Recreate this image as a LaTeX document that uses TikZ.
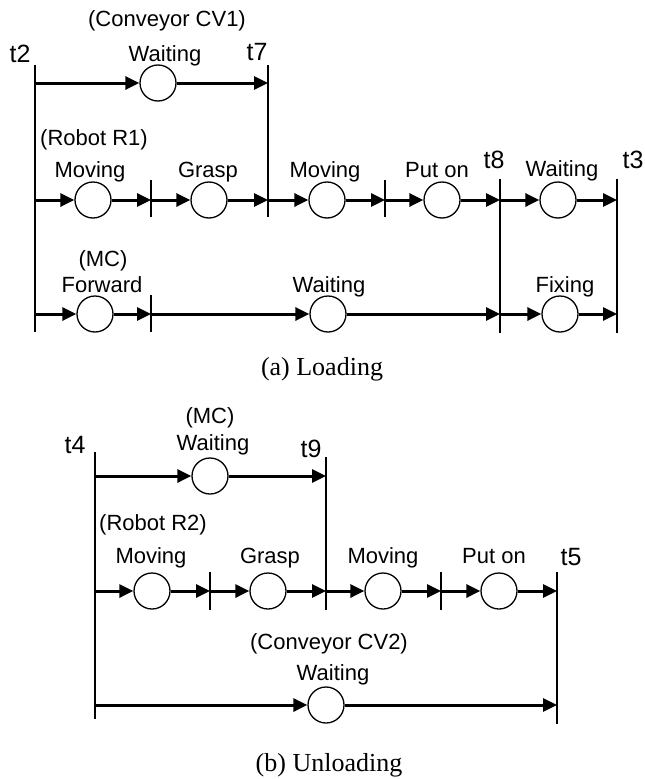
\documentclass[tikz,border=0pt]{standalone}
\usepackage{fontspec}
\setmainfont{Liberation Serif}
\newfontfamily\lab{Liberation Sans}
\usetikzlibrary{arrows.meta}
\tikzset{
 place/.style={circle, draw, line width=1.3pt, minimum size=36pt, inner sep=0pt},
 flow/.style={line width=3pt, -{Triangle[length=14pt,width=13pt]}},
 bar/.style={line width=1.3pt},
 lbl/.style={anchor=base, inner sep=0pt, font=\lab\fontsize{22}{24}\selectfont},
 tlbl/.style={anchor=base, inner sep=0pt, font=\lab\fontsize{25}{28}\selectfont},
 captxt/.style={anchor=base, inner sep=0pt, font=\fontsize{26}{30}\selectfont}
}
\begin{document}
\begin{tikzpicture}[x=1pt,y=-1pt]
\useasboundingbox (0,0) rectangle (645,779);
% ================= (a) Loading =================
% bars
\coordinate (t2top) at (35,65);  \coordinate (t2bot) at (35,332);
\coordinate (t7top) at (268,65); \coordinate (t7bot) at (268,217);
\coordinate (t8top) at (500,179); \coordinate (t8bot) at (500,333);
\coordinate (t3top) at (617,179); \coordinate (t3bot) at (617,333);
\coordinate (ka1top) at (151,180); \coordinate (ka1bot) at (151,217);
\coordinate (ka2top) at (385,180); \coordinate (ka2bot) at (385,217);
\coordinate (ka3top) at (151,295); \coordinate (ka3bot) at (151,332);
\foreach \b in {t2,t7,t8,t3,ka1,ka2,ka3} \draw[bar] (\b top) -- (\b bot);
% row 1
\coordinate (a1s) at (35,83); \coordinate (a1e) at (268,83);
\node[place] (ca1) at (158,83) {};
\draw[flow] (a1s) -- (ca1); \draw[flow] (ca1) -- (a1e);
% row 2
\coordinate (a2x0) at (35,200);  \coordinate (a2x1) at (151,200);
\coordinate (a2x2) at (268,200); \coordinate (a2x3) at (385,200);
\coordinate (a2x4) at (500,200); \coordinate (a2x5) at (617,200);
\node[place] (ca2a) at (93,200) {};
\node[place] (ca2b) at (209,200) {};
\node[place] (ca2c) at (327,200) {};
\node[place] (ca2d) at (442,200) {};
\node[place] (ca2e) at (558,200) {};
\draw[flow] (a2x0) -- (ca2a); \draw[flow] (ca2a) -- (a2x1);
\draw[flow] (a2x1) -- (ca2b); \draw[flow] (ca2b) -- (a2x2);
\draw[flow] (a2x2) -- (ca2c); \draw[flow] (ca2c) -- (a2x3);
\draw[flow] (a2x3) -- (ca2d); \draw[flow] (ca2d) -- (a2x4);
\draw[flow] (a2x4) -- (ca2e); \draw[flow] (ca2e) -- (a2x5);
% row 3
\coordinate (a3x0) at (35,314);  \coordinate (a3x1) at (151,314);
\coordinate (a3x2) at (500,314); \coordinate (a3x3) at (617,314);
\node[place] (ca3a) at (95,314) {};
\node[place] (ca3b) at (328,314) {};
\node[place] (ca3c) at (560,314) {};
\draw[flow] (a3x0) -- (ca3a); \draw[flow] (ca3a) -- (a3x1);
\draw[flow] (a3x1) -- (ca3b); \draw[flow] (ca3b) -- (a3x2);
\draw[flow] (a3x2) -- (ca3c); \draw[flow] (ca3c) -- (a3x3);
% labels (a)
\node[lbl] (la0) at (167,26) {(Conveyor CV1)};
\node[lbl] (la1) at (165,61) {Waiting};
\node[tlbl] (lt2) at (20,62) {t2};
\node[tlbl] (lt7) at (257,60) {t7};
\node[lbl] (la2) at (94,145) {(Robot R1)};
\node[lbl] (la3) at (90,177) {Moving};
\node[lbl] (la4) at (208,177) {Grasp};
\node[lbl] (la5) at (325,177) {Moving};
\node[lbl] (la6) at (437,177) {Put on};
\node[tlbl] (lt8) at (494,168) {t8};
\node[lbl] (la7) at (562,176) {Waiting};
\node[tlbl] (lt3) at (633,168) {t3};
\node[lbl] (la8) at (103,266) {(MC)};
\node[lbl] (la9) at (102,292) {Forward};
\node[lbl] (la10) at (329,292) {Waiting};
\node[lbl] (la11) at (565,292) {Fixing};
\node[captxt] (capa) at (322,375) {(a) Loading};
% ================= (b) Unloading =================
\coordinate (t4top) at (95,452);  \coordinate (t4bot) at (95,719);
\coordinate (t9top) at (326,457); \coordinate (t9bot) at (326,610);
\coordinate (t5top) at (557,572); \coordinate (t5bot) at (557,724);
\coordinate (kb1top) at (210,572); \coordinate (kb1bot) at (210,610);
\coordinate (kb2top) at (441,572); \coordinate (kb2bot) at (441,610);
\foreach \b in {t4,t9,t5,kb1,kb2} \draw[bar] (\b top) -- (\b bot);
% row 1
\coordinate (b1s) at (95,476); \coordinate (b1e) at (326,476);
\node[place] (cb1) at (210,476) {};
\draw[flow] (b1s) -- (cb1); \draw[flow] (cb1) -- (b1e);
% row 2
\coordinate (b2x0) at (95,591);  \coordinate (b2x1) at (210,591);
\coordinate (b2x2) at (326,591); \coordinate (b2x3) at (441,591);
\coordinate (b2x4) at (557,591);
\node[place] (cb2a) at (152,591) {};
\node[place] (cb2b) at (268,591) {};
\node[place] (cb2c) at (383,591) {};
\node[place] (cb2d) at (499,591) {};
\draw[flow] (b2x0) -- (cb2a); \draw[flow] (cb2a) -- (b2x1);
\draw[flow] (b2x1) -- (cb2b); \draw[flow] (cb2b) -- (b2x2);
\draw[flow] (b2x2) -- (cb2c); \draw[flow] (cb2c) -- (b2x3);
\draw[flow] (b2x3) -- (cb2d); \draw[flow] (cb2d) -- (b2x4);
% row 3
\coordinate (b3s) at (95,705); \coordinate (b3e) at (557,705);
\node[place] (cb3) at (326,705) {};
\draw[flow] (b3s) -- (cb3); \draw[flow] (cb3) -- (b3e);
% labels (b)
\node[lbl] (lb0) at (210,423) {(MC)};
\node[lbl] (lb1) at (213,450) {Waiting};
\node[tlbl] (lt4) at (75,453) {t4};
\node[tlbl] (lt9) at (311,457) {t9};
\node[lbl] (lb2) at (153,530) {(Robot R2)};
\node[lbl] (lb3) at (151,563) {Moving};
\node[lbl] (lb4) at (270,563) {Grasp};
\node[lbl] (lb5) at (383,563) {Moving};
\node[lbl] (lb6) at (494,563) {Put on};
\node[tlbl] (lt5) at (571,565) {t5};
\node[lbl] (lb7) at (329,649) {(Conveyor CV2)};
\node[lbl] (lb8) at (333,680) {Waiting};
\node[captxt] (capb) at (329,771) {(b) Unloading};
\end{tikzpicture}
\end{document}
